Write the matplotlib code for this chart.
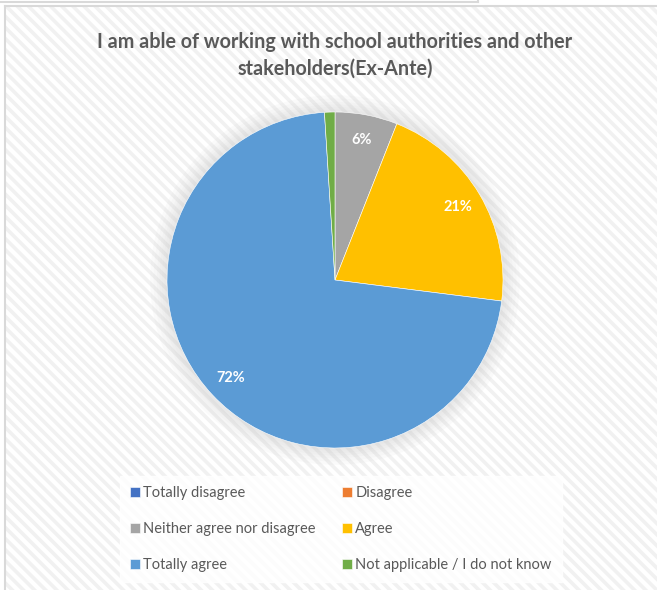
import matplotlib.pyplot as plt
from matplotlib.patches import Rectangle, Circle
from matplotlib.lines import Line2D

categories = ['Totally disagree', 'Disagree', 'Neither agree nor disagree',
              'Agree', 'Totally agree', 'Not applicable / I do not know']
values = [0, 0, 6, 21, 72, 1]
colors = ['#4472C4', '#ED7D31', '#A5A5A5', '#FFC000', '#5B9BD5', '#70AD47']
title = 'I am able of working with school authorities and other\nstakeholders(Ex-Ante)'

W, H = 657, 590
plt.rcParams['font.family'] = ['Lato', 'DejaVu Sans']
plt.rcParams['hatch.linewidth'] = 2.6
plt.rcParams['hatch.color'] = '#f1f1f1'

fig = plt.figure(figsize=(W / 100, H / 100), dpi=100)
fig.patch.set_facecolor('white')

# hatched chart area background
bg = Rectangle((5 / W, 0), 1, 1 - 6 / H, transform=fig.transFigure,
               facecolor='white', edgecolor='#f1f1f1', hatch='\\\\\\', lw=0, zorder=0)
fig.add_artist(bg)

# frame lines (chart border + bottom of the previous chart)
grey = '#d9d9d9'
fig.add_artist(Line2D([5 / W, 1], [1 - 6 / H] * 2, color=grey, lw=1.5))
fig.add_artist(Line2D([5 / W] * 2, [0, 1 - 6 / H], color=grey, lw=1.5))
fig.add_artist(Line2D([0, 478 / W], [1 - 2 / H] * 2, color=grey, lw=1.5))
fig.add_artist(Line2D([478 / W] * 2, [1 - 2 / H, 1], color=grey, lw=1.5))

# pie
cx, cy, R, lim = 335, 280, 168, 1.3
half = lim * R
ax = fig.add_axes([(cx - half) / W, (H - cy - half) / H, 2 * half / W, 2 * half / H])
for r in [1.10, 1.08, 1.06, 1.045, 1.03, 1.015]:
    ax.add_patch(Circle((0, 0), r, color='#c8c8c8', alpha=0.08, lw=0, zorder=0))

wedges, texts, autotexts = ax.pie(
    values, colors=colors, startangle=90, counterclock=False, radius=1,
    autopct=lambda p: f'{p:.0f}%' if p >= 3 else '', pctdistance=0.85,
    wedgeprops=dict(linewidth=0.4, edgecolor='white'),
    textprops=dict(color='white', fontsize=10.5, fontweight='bold'))
ax.set_xlim(-lim, lim)
ax.set_ylim(-lim, lim)
ax.set_aspect('equal')
ax.axis('off')

fig.text(cx / W, 1 - 55.5 / H, title, ha='center', va='center', fontsize=14.2,
         fontweight='bold', color='#595959', linespacing=1.42)

# legend, row-wise order
order = [0, 2, 4, 1, 3, 5]
leg = fig.legend([wedges[i] for i in order], [categories[i] for i in order],
                 ncol=2, loc='upper left', bbox_to_anchor=(120 / W, 1 - 476 / H),
                 frameon=True, fancybox=False, fontsize=10.5,
                 handlelength=0.65, handleheight=0.65, handletextpad=0.25,
                 columnspacing=1.8, labelspacing=1.5, borderpad=0.7,
                 borderaxespad=0)
leg.get_frame().set_facecolor('white')
leg.get_frame().set_edgecolor('white')
for t in leg.get_texts():
    t.set_color('#595959')

fig.savefig('out.png', dpi=100)
